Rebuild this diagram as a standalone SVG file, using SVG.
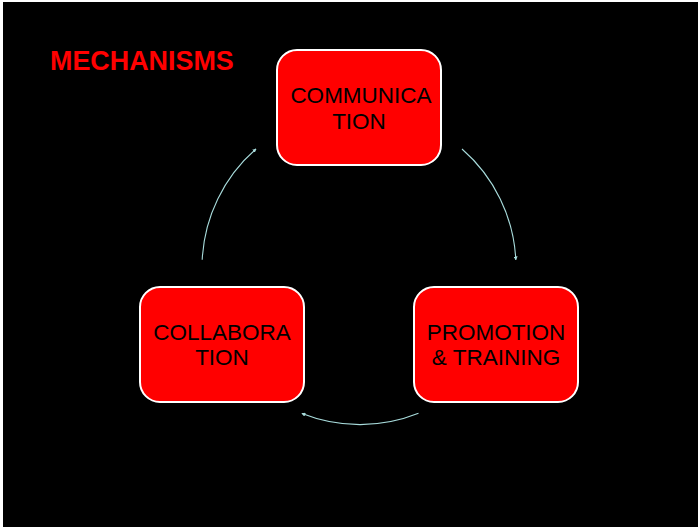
<svg xmlns="http://www.w3.org/2000/svg" width="699" height="529" viewBox="0 0 699 529">
  <style>
    .box { fill: #ff0000; stroke: #ffffff; stroke-width: 2; }
    .label { font-family: "Liberation Sans", Arial, sans-serif; font-size: 22.5px; fill: #000000; text-anchor: middle; }
    .title { font-family: "Liberation Sans", Arial, sans-serif; font-size: 26.9px; font-weight: bold; fill: #ff0000; }
    .arc { fill: none; stroke: #a8dcdc; stroke-width: 1.1; marker-end: url(#tip); }
  </style>
  <defs>
    <marker id="tip" viewBox="0 0 6 6" refX="5" refY="3" markerWidth="4" markerHeight="4" orient="auto" markerUnits="userSpaceOnUse">
      <path d="M0,0 L6,3 L0,6 z" fill="#a8dcdc"/>
    </marker>
  </defs>

  <!-- page -->
  <rect x="0" y="0" width="699" height="529" fill="#ffffff"/>
  <rect x="3" y="2" width="695" height="525" fill="#000000"/>

  <text class="title" x="50" y="70">MECHANISMS</text>

  <!-- cycle connectors -->
  <g id="connectors">
    <path class="arc" d="M202.2,259.8 A157,157 0 0 1 256,149"/>
    <path class="arc" d="M462,149 A157,157 0 0 1 515.8,259.8"/>
    <path class="arc" d="M418.5,413.3 A157,157 0 0 1 302,413.5"/>
  </g>

  <g id="communication">
    <rect class="box" x="277" y="50" width="164" height="115" rx="20" ry="20"/>
    <text class="label" x="361" y="103">COMMUNICA</text>
    <text class="label" x="359" y="129">TION</text>
  </g>

  <g id="collaboration">
    <rect class="box" x="140" y="287" width="164" height="115" rx="20" ry="20"/>
    <text class="label" x="222" y="340">COLLABORA</text>
    <text class="label" x="222" y="365">TION</text>
  </g>

  <g id="promotion-training">
    <rect class="box" x="414" y="287" width="164" height="115" rx="20" ry="20"/>
    <text class="label" x="496" y="340">PROMOTION</text>
    <text class="label" x="496" y="365">&amp; TRAINING</text>
  </g>
</svg>
